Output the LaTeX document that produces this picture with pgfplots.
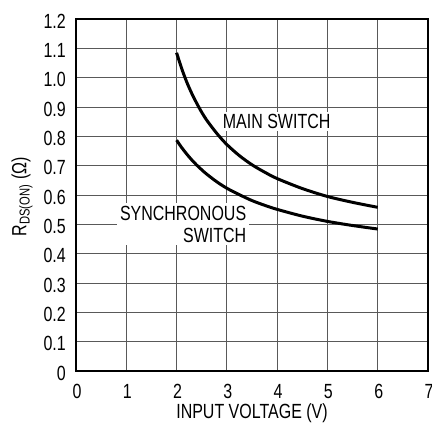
\documentclass[border=0pt]{standalone}
\usepackage{pgfplots}
\pgfplotsset{compat=1.18}
\usepackage{fontspec}
\setmainfont{Liberation Sans}[FakeStretch=0.78]
\newcommand{\chartfont}{\fontsize{20.5}{21.5}\selectfont}
\begin{document}
\begin{tikzpicture}
\begin{axis}[
    name=ax,
    scale only axis,
    width=352pt, height=352pt,
    xmin=0, xmax=7, ymin=0, ymax=1.2,
    xtick={0,1,...,7},
    ytick={0,0.1,...,1.2},
    xticklabels={0,1,2,3,4,5,6,7},
    yticklabels={0,0.1,0.2,0.3,0.4,0.5,0.6,0.7,0.8,0.9,1.0,1.1,1.2},
    /pgf/number format/assume math mode=true,
    major tick length=0pt,
    grid=major,
    major grid style={black!65, line width=0.9pt},
    axis line style={black, line width=1.6pt},
    tick label style={font=\chartfont, inner sep=0pt},
    xticklabel style={anchor=center, yshift=-20.7pt, xshift=1pt},
    yticklabel style={anchor=east, xshift=-10pt, yshift=-2pt},
    label style={font=\chartfont},
    xlabel={INPUT VOLTAGE (V)},
    ylabel={R\textsubscript{DS(ON)} (Ω)},
    xlabel style={at={(axis description cs:0.5,-0.119)}, anchor=center},
    ylabel style={at={(axis description cs:-0.153,0.495)}, anchor=center},
]
\addplot[black, line width=3pt, smooth] coordinates {
    (2.0,1.085) (2.1,1.032) (2.2,0.986) (2.3,0.947) (2.4,0.913) (2.5,0.882)
    (2.6,0.855) (2.8,0.810) (3.0,0.772) (3.25,0.734) (3.5,0.703) (3.75,0.678)
    (4.0,0.656) (4.5,0.622) (5.0,0.595) (5.5,0.575) (6.0,0.558)
};
\addplot[black, line width=3pt, smooth] coordinates {
    (2.0,0.787) (2.1,0.762) (2.2,0.740) (2.3,0.720) (2.4,0.702) (2.5,0.686)
    (2.6,0.671) (2.8,0.645) (3.0,0.623) (3.25,0.601) (3.5,0.581) (3.75,0.565)
    (4.0,0.551) (4.5,0.528) (5.0,0.510) (5.5,0.496) (6.0,0.484)
};
\node[fill=white, inner sep=2pt, font=\chartfont] at (axis cs:3.99,0.85) {MAIN SWITCH};
\node[fill=white, inner sep=3pt, align=right, font=\chartfont] at (axis cs:2.13,0.5) {SYNCHRONOUS\\SWITCH};
\end{axis}
\pgfresetboundingbox
\path[use as bounding box] ([xshift=-76pt,yshift=-52pt]ax.south west) rectangle ([xshift=4pt,yshift=19pt]ax.north east);
\end{tikzpicture}
\end{document}
